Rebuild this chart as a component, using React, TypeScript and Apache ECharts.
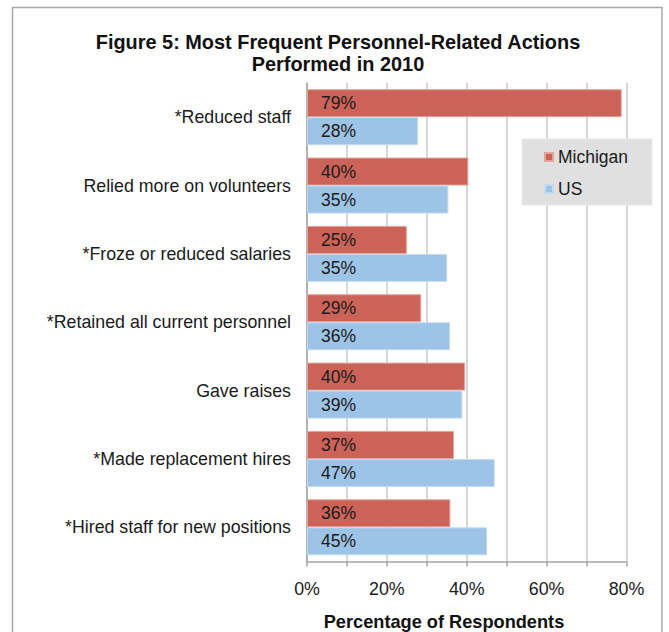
import React, { useEffect, useRef } from "react";
import * as echarts from "echarts";

const categories = [
  "*Reduced staff",
  "Relied more on volunteers",
  "*Froze or reduced salaries",
  "*Retained all current personnel",
  "Gave raises",
  "*Made replacement hires",
  "*Hired staff for new positions",
];
const michigan = [78.8, 40.4, 25.0, 28.6, 39.6, 36.8, 35.9];
const us = [27.8, 35.4, 35.1, 35.8, 38.9, 47.0, 45.1];
const xTicks = [0, 10, 20, 30, 40, 50, 60, 70, 80];
const seriesNames = ["Michigan", "US"];

const FONT = "'Liberation Sans', Arial, Helvetica, sans-serif";

export default function App() {
  const ref = useRef<HTMLDivElement>(null);
  useEffect(() => {
    document.body.style.margin = "0";
    const chart = echarts.init(ref.current!, undefined, { renderer: "svg" });
    const label = {
      show: true,
      position: "insideLeft" as const,
      distance: 14,
      color: "#1a1a1a",
      fontSize: 17.5,
      fontFamily: FONT,
      formatter: (p: any) => Math.round(p.value) + "%",
    };
    chart.setOption({
      animation: false,
      backgroundColor: "#ffffff",
      textStyle: { fontFamily: FONT },
      grid: { left: 307, right: 42.5, top: 83, bottom: 70.5, containLabel: false },
      legend: {
        data: seriesNames,
        orient: "vertical",
        left: 522,
        top: 139,
        padding: [9, 24, 7, 22],
        itemGap: 14,
        itemWidth: 8,
        itemHeight: 8,
        icon: "rect",
        backgroundColor: "#e0e0e0",
        borderColor: "#e8e8e8",
        borderWidth: 1,
        textStyle: { fontSize: 17.5, color: "#1a1a1a", fontFamily: FONT },
      },
      xAxis: {
        type: "value",
        min: xTicks[0],
        max: xTicks[xTicks.length - 1],
        interval: 10,
        axisLine: { show: true, lineStyle: { color: "#a6a6a6", width: 1.5 } },
        axisTick: { show: true, length: 5, lineStyle: { color: "#a6a6a6", width: 1.5 } },
        axisLabel: {
          margin: 18,
          fontSize: 17.8,
          color: "#1a1a1a",
          fontFamily: FONT,
          formatter: (v: number) => (v % 20 === 0 ? v + "%" : ""),
        },
        splitLine: { show: true, lineStyle: { color: "#cacaca", width: 1.5 } },
      },
      yAxis: {
        type: "category",
        data: categories,
        inverse: true,
        axisLine: { show: true, lineStyle: { color: "#a6a6a6", width: 1.5 } },
        axisTick: { show: false },
        axisLabel: { margin: 16, fontSize: 17.8, color: "#1a1a1a", fontFamily: FONT },
        splitLine: { show: false },
      },
      series: [
        {
          name: seriesNames[0],
          type: "bar",
          data: michigan,
          barWidth: 28,
          barGap: "0%",
          itemStyle: { color: "#cb6359", borderColor: "#e3a39c", borderWidth: 1 },
          label,
        },
        {
          name: seriesNames[1],
          type: "bar",
          data: us,
          barWidth: 28,
          barGap: "0%",
          itemStyle: { color: "#9dc3e6", borderColor: "#c3dbf0", borderWidth: 1 },
          label,
        },
      ],
      graphic: [
        {
          type: "rect",
          shape: { x: 12.5, y: 7.5, width: 649.5, height: 700 },
          style: { fill: "none", stroke: "#a9a9a9", lineWidth: 1.5 },
          silent: true,
          z: 0,
        },
        {
          type: "text",
          x: 338,
          y: 42,
          style: {
            text: "Figure 5: Most Frequent Personnel-Related Actions",
            textAlign: "center",
            textVerticalAlign: "middle",
            font: `bold 19.9px ${FONT}`,
            fill: "#111111",
          },
        },
        {
          type: "text",
          x: 338,
          y: 64,
          style: {
            text: "Performed in 2010",
            textAlign: "center",
            textVerticalAlign: "middle",
            font: `bold 19.9px ${FONT}`,
            fill: "#111111",
          },
        },
        {
          type: "text",
          x: 444,
          y: 622,
          style: {
            text: "Percentage of Respondents",
            textAlign: "center",
            textVerticalAlign: "middle",
            font: `bold 18.2px ${FONT}`,
            fill: "#111111",
          },
        },
      ],
    });
    return () => chart.dispose();
  }, []);
  return <div ref={ref} style={{ width: 669, height: 632 }} />;
}
